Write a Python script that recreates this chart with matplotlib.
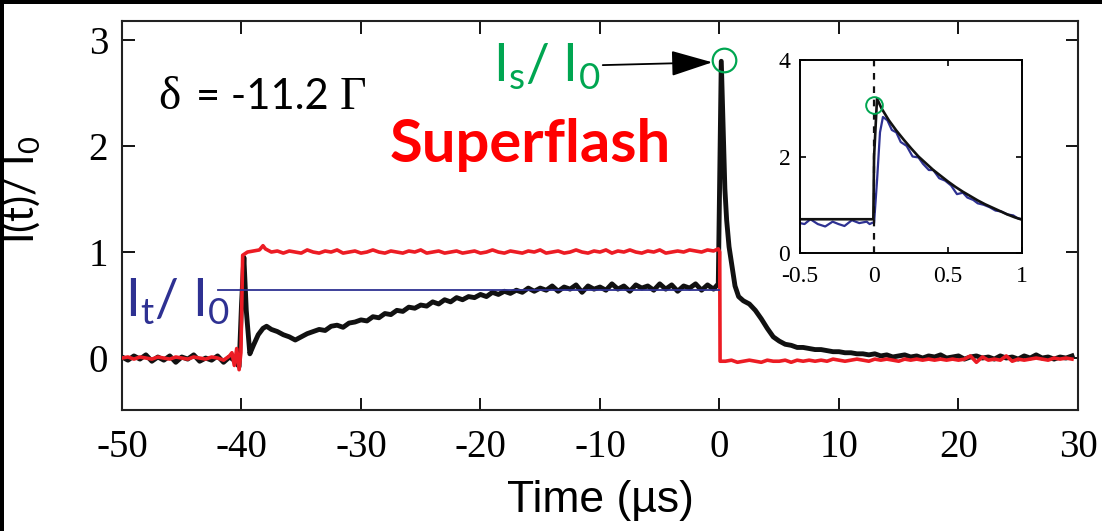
import numpy as np
import matplotlib
matplotlib.use('Agg')
import matplotlib.pyplot as plt
from matplotlib.patches import Rectangle

plt.rcParams['mathtext.fontset'] = 'custom'
plt.rcParams['mathtext.rm'] = 'Lato'
plt.rcParams['mathtext.it'] = 'Lato'
plt.rcParams['axes.unicode_minus'] = False

# ---------------------------------------------------------------
# data
# ---------------------------------------------------------------
# probe (red) trace, sampled every 0.5 us plus the edges
red_t = np.concatenate([
    np.arange(-50, -40.9, 0.5),
    [-40.8, -40.6, -40.4, -40.2, -40.05, -39.9],
    [-39.5, -39, -38.5, -38.2, -38, -37.5, -37],
    np.arange(-36.5, -0.4, 0.5),
    [-0.1, 0.02, 0.05],
    np.arange(0.5, 29.6, 0.5),
])
red_v = [
    0.0, 0.01, -0.01, 0.01, 0.0, -0.01, 0.01, 0.0, -0.01, 0.01,
    0.0, -0.01, 0.01, 0.0, -0.01, 0.01, 0.0, -0.02, 0.02,
    0.05, -0.07, 0.09, -0.11, 0.05, 0.97,
    1.0, 1.01, 1.02, 1.06, 1.03, 1.0, 1.01,
    0.99, 1.01, 1.0, 0.99, 1.02, 1.0, 0.99, 1.01, 1.0, 1.02,
    0.99, 1.0, 1.01, 0.99, 1.0, 1.02, 1.0, 0.99, 1.01, 1.0,
    0.99, 1.01, 1.0, 1.02, 0.99, 1.0, 1.01, 0.99, 1.0, 1.01,
    0.99, 1.0, 1.01, 0.99, 1.0, 1.02, 1.0, 0.99, 1.01, 1.0,
    0.99, 1.01, 1.0, 1.02, 0.99, 1.0, 1.01, 0.99, 1.0, 1.02,
    1.0, 0.99, 1.01, 1.0, 1.02, 0.99, 1.01, 1.0, 1.02, 1.0,
    0.99, 1.01, 1.0, 1.02, 0.99, 1.0, 1.01, 1.0, 1.02, 1.01,
    1.0, 1.02, 1.01, 1.03,
    1.0, -0.03,
    -0.03, -0.02, -0.04, -0.03, -0.02, -0.03, -0.04, -0.02, -0.03, -0.03,
    -0.02, -0.04, -0.02, -0.03, -0.02, -0.03, -0.02, -0.03, -0.01, -0.02,
    -0.03, -0.02, -0.01, -0.02, -0.03, -0.01, -0.02, -0.01, -0.02, -0.03,
    -0.01, -0.02, -0.01, -0.02, -0.01, -0.02, -0.01, -0.02, -0.01, -0.02,
    -0.01, 0.02, -0.04, 0.01, -0.02, -0.01, -0.02, 0.02, -0.03, -0.01,
    -0.02, -0.01, 0.0, -0.01, -0.02, 0.0, -0.01, 0.0, -0.01,
]

# transmitted (black) trace
black_t = np.concatenate([
    np.arange(-50, -40.4, 0.5),
    [-40.2, -40.0, -39.8, -39.6, -39.3, -39.0, -38.6, -38.2, -37.9, -37.5],
    np.arange(-37, -0.4, 0.5),
    [-0.1],
    [0.05, 0.15, 0.3, 0.45, 0.6, 0.8, 1.0, 1.3, 1.6, 2.0, 2.5, 3.0, 3.5, 4.0, 4.5],
    np.arange(5, 29.6, 0.5),
])
black_v = [
    0.01, -0.02, 0.02, -0.01, 0.03, -0.03, 0.01, -0.02, 0.02, -0.04,
    0.01, -0.01, 0.03, -0.03, 0.0, -0.02, 0.02, -0.04, 0.01, -0.03,
    -0.08, 0.5, 0.95, 0.45, 0.04, 0.12, 0.22, 0.28, 0.30, 0.27,
    0.25, 0.22, 0.2, 0.17, 0.2, 0.23, 0.25, 0.27, 0.26, 0.3,
    0.31, 0.29, 0.33, 0.34, 0.36, 0.35, 0.39, 0.38, 0.42, 0.41,
    0.45, 0.44, 0.48, 0.47, 0.5, 0.49, 0.53, 0.51, 0.55, 0.53,
    0.57, 0.55, 0.58, 0.57, 0.6, 0.58, 0.62, 0.6, 0.63, 0.61,
    0.64, 0.62, 0.66, 0.63, 0.66, 0.64, 0.68, 0.63, 0.67, 0.65,
    0.69, 0.62, 0.68, 0.65, 0.67, 0.64, 0.7, 0.65, 0.68, 0.63,
    0.69, 0.66, 0.68, 0.64, 0.7, 0.65, 0.69, 0.63, 0.68, 0.66,
    0.7, 0.64, 0.69, 0.65,
    0.7,
    2.0, 2.8, 2.2, 1.6, 1.3, 1.05, 0.9, 0.68, 0.58, 0.54, 0.51, 0.45, 0.37, 0.28, 0.2,
    0.16, 0.13, 0.12, 0.1, 0.1, 0.09, 0.08, 0.08, 0.07, 0.06,
    0.06, 0.05, 0.05, 0.04, 0.04, 0.03, 0.04, 0.02, 0.03, 0.01,
    0.02, 0.03, 0.01, 0.02, 0.0, 0.02, 0.01, 0.03, 0.0, 0.01,
    0.02, -0.01, 0.01, 0.02, 0.0, 0.01, -0.01, 0.02, 0.0, 0.01,
    -0.01, 0.02, 0.0, 0.03, 0.0, 0.01, -0.01, 0.01, 0.0, 0.02,
]

# steady-state level I_t/I_0
It_t = [-42, 0]
It_level = 0.645

# superflash peak and arrow tail
peak_t, peak_v = 0.4, 2.81
label_t, label_v = -10, 2.75

# inset: zoom on the flash
inset_black_t = [-0.5, -0.005, 0.0, 0.02, 0.05, 0.1, 0.15, 0.2, 0.25, 0.3, 0.35, 0.4,
                 0.45, 0.5, 0.55, 0.6, 0.65, 0.7, 0.75, 0.8, 0.85, 0.9, 0.95, 1.0]
inset_black_v = [0.7, 0.7, 2.0, 3.2, 3.0, 2.75, 2.54, 2.35, 2.17, 2.0, 1.86, 1.72,
                 1.6, 1.48, 1.37, 1.27, 1.18, 1.09, 1.01, 0.94, 0.87, 0.8, 0.74, 0.69]
inset_blue_t = [-0.5, -0.47, -0.43, -0.38, -0.33, -0.28, -0.24, -0.2, -0.15, -0.1, -0.05,
                -0.03, -0.01, 0.0, 0.02, 0.04, 0.06, 0.09, 0.12, 0.15, 0.18, 0.22, 0.26,
                0.3, 0.33, 0.37, 0.4, 0.44, 0.48, 0.52, 0.56, 0.6, 0.63, 0.67, 0.7, 0.74,
                0.78, 0.82, 0.86, 0.9, 0.94, 0.97, 1.0]
inset_blue_v = [0.62, 0.6, 0.7, 0.6, 0.55, 0.65, 0.6, 0.56, 0.68, 0.62, 0.65,
                0.6, 0.63, 0.62, 1.5, 2.5, 2.82, 2.75, 2.55, 2.5, 2.3, 2.22, 2.0,
                1.98, 1.85, 1.72, 1.72, 1.55, 1.5, 1.4, 1.22, 1.25, 1.15, 1.1, 1.03, 1.0,
                0.95, 0.88, 0.86, 0.8, 0.78, 0.72, 0.7]
inset_peak_t, inset_peak_v = 0.0, 3.06

x_ticks = [-50, -40, -30, -20, -10, 0, 10, 20, 30]
y_ticks = [0, 1, 2, 3]
inset_x_ticks = [-0.5, 0, 0.5, 1]
inset_x_labels = ['-0.5', '0', '0.5', '1']
inset_y_ticks = [0, 2, 4]

RED = '#ec1c24'
BLUE = '#2e3192'
GREEN = '#00a651'
SERIF = 'Liberation Serif'

# ---------------------------------------------------------------
# figure
# ---------------------------------------------------------------
fig = plt.figure(figsize=(11.02, 5.31), dpi=100)
fig.patch.set_facecolor('black')
fig.patches.append(Rectangle((4/1102, -0.05), 1.1, 1.05 - 4/531,
                             transform=fig.transFigure, facecolor='white',
                             edgecolor='none', zorder=-10))

ax = fig.add_axes([0.1107, 0.2279, 0.8675, 0.7326])
ax.plot(red_t, red_v, color=RED, lw=2.6, zorder=3)
ax.plot(black_t, black_v, color='#111111', lw=3.5, zorder=2)
ax.plot(It_t, [It_level, It_level], color=BLUE, lw=1.3, zorder=4)
ax.plot(peak_t, peak_v, 'o', ms=17, mfc='none', mec=GREEN, mew=1.6, zorder=5)

ax.set_xlim(-50, 30)
ax.set_ylim(-0.49, 3.18)
ax.set_xticks(x_ticks)
ax.set_yticks(y_ticks)
ax.tick_params(direction='in', top=True, right=True, length=9, width=1.3,
               labelsize=28)
ax.tick_params(axis='x', pad=14)
ax.tick_params(axis='y', pad=10)
for lab in ax.get_xticklabels() + ax.get_yticklabels():
    lab.set_family(SERIF)
for s in ax.spines.values():
    s.set_linewidth(1.5)
    s.set_color('#222222')

ax.set_xlabel('Time (µs)', family='Liberation Sans', fontsize=32, labelpad=10)
ax.set_ylabel(r'I(t)/ I$_0$', family='Lato', fontsize=30)
ax.yaxis.set_label_coords(-0.083, 0.566)

# annotations
ax.text(0.038, 0.775, 'δ', transform=ax.transAxes, family=SERIF, fontsize=34)
ax.text(0.077, 0.775, '= -11.2', transform=ax.transAxes, family='Lato', fontsize=30)
ax.text(0.228, 0.775, 'Γ', transform=ax.transAxes, family=SERIF, fontsize=33)
ax.text(0.28, 0.637, 'Superflash', transform=ax.transAxes, family='Lato',
        fontweight='bold', color='#ff0000', fontsize=43)
ax.text(0.003, 0.24, r'I$_\mathrm{t}$/ I$_0$', transform=ax.transAxes, family='Lato',
        color=BLUE, fontsize=38)
ax.annotate(r'I$_\mathrm{s}$/ I$_0$', xy=(-0.6, 2.79), xytext=(label_t, label_v),
            textcoords='data', ha='right', va='center', family='Lato',
            color=GREEN, fontsize=38,
            arrowprops=dict(arrowstyle='-|>,head_length=1.3,head_width=0.4',
                            mutation_scale=20, color='black', lw=1.3,
                            shrinkA=0, shrinkB=0))

# inset
axi = fig.add_axes([0.726, 0.5235, 0.2015, 0.3635])
axi.plot(inset_blue_t, inset_blue_v, color=BLUE, lw=1.6)
axi.plot(inset_black_t, inset_black_v, color='#111111', lw=1.9)
axi.plot([0, 0], [0, 4], color='#111111', lw=1.6, ls=(0, (3, 3)))
axi.plot(inset_peak_t, inset_peak_v, 'o', ms=12, mfc='none', mec=GREEN, mew=1.4)
axi.set_xlim(-0.5, 1)
axi.set_ylim(0, 4)
axi.set_xticks(inset_x_ticks)
axi.set_xticklabels(inset_x_labels)
axi.set_yticks(inset_y_ticks)
axi.tick_params(direction='in', top=True, right=True, length=4, width=1.2,
                labelsize=17)
axi.tick_params(axis='x', pad=9)
axi.tick_params(axis='y', pad=7)
for lab in axi.get_xticklabels() + axi.get_yticklabels():
    lab.set_family(SERIF)
for s in axi.spines.values():
    s.set_linewidth(1.4)

fig.savefig('out.png', dpi=100, facecolor=fig.get_facecolor())
